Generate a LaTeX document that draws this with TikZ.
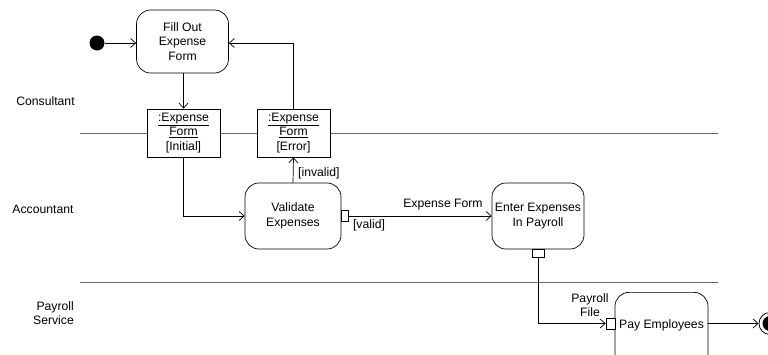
\documentclass[tikz,border=0pt]{standalone}
\usepackage{fontspec}
\setmainfont{Liberation Sans}
\usetikzlibrary{arrows.meta}
\begin{document}
\begin{tikzpicture}[x=1pt,y=-1pt,
  font=\fontsize{12.2}{14.5}\selectfont,
  act/.style={draw, line width=0.7pt, rounded corners=14pt, align=center, inner sep=0pt},
  obj/.style={draw, line width=0.7pt, align=center, inner sep=0pt, minimum width=73pt, minimum height=48pt},
  pinbox/.style={draw, line width=0.7pt, fill=white, inner sep=0pt},
  flow/.style={draw, line width=0.7pt, -{Straight Barb[length=5pt,width=9pt]}},
  lane/.style={draw, black!60, line width=1pt},
  lbl/.style={inner sep=0pt, align=center},
]
\clip (0,0) rectangle (768,354);
\fill[white] (0,0) rectangle (768,354);

% swimlane separators
\coordinate (l1a) at (80,133.5);
\coordinate (l1b) at (718,133.5);
\coordinate (l2a) at (80,282.5);
\coordinate (l2b) at (718,282.5);
\draw[lane] (l1a) -- (l1b);
\draw[lane] (l2a) -- (l2b);

% lane labels
\node[lbl] (consultant) at (45.5,101) {Consultant};
\node[lbl] (accountant) at (43,209) {Accountant};
\node[lbl, align=right, anchor=east] (payroll) at (74,313) {Payroll\\Service};

% nodes
\node[circle, fill=black, inner sep=0pt, minimum size=15pt] (init) at (97,43) {};
\node[act, minimum width=92pt, minimum height=63pt] (fill) at (182.5,41.5) {Fill Out\\Expense\\Form};
\node[obj, fill=white] (objI) at (183.5,133) {\underline{:Expense}\\\underline{Form}\\{[}Initial{]}};
\node[obj, fill=white] (objE) at (293.5,133) {\underline{:Expense}\\\underline{Form}\\{[}Error{]}};
\node[act, minimum width=96pt, minimum height=66pt] (val) at (293,216) {Validate\\Expenses};
\node[act, minimum width=92pt, minimum height=66pt] (enter) at (538,216) {Enter Expenses\\In Payroll};
\node[act, anchor=north, minimum width=93pt, text height=36pt, text depth=40pt] (pay) at (661.5,292) {Pay Employees};

% pins
\node[pinbox, minimum width=7pt, minimum height=11pt] (pinV) at (344.5,216) {};
\node[pinbox, minimum width=12pt, minimum height=8pt] (pinE) at (538,253) {};
\node[pinbox, minimum width=9pt, minimum height=11pt] (pinP) at (610.5,323.5) {};

% final node
\node[circle, draw, line width=0.8pt, fill=white, inner sep=0pt, minimum size=22pt] (final) at (770,323.5) {};
\node[circle, fill=black, inner sep=0pt, minimum size=15pt] (finalin) at (final.center) {};

% connectors
\draw[flow] (init) -- (fill.west |- init);
\draw[flow] (fill.south -| objI.north) -- (objI.north);
\draw[flow] (objE.north) |- (fill.east |- init);
\draw[flow] (objI.south) |- (val.west);
\draw[flow] (val.north) -- (objE.south);
\node[lbl, anchor=west] (invlbl) at (298,173) {[invalid]};
\draw[flow] (pinV.east) -- (pinV.east -| enter.west);
\node[lbl] (eflbl) at (443,205) {Expense Form};
\node[lbl] (validlbl) at (369,225.5) {[valid]};
\draw[flow] (pinE.south) |- (pinP.west);
\node[lbl] (filelbl) at (590,305) {Payroll\\File};
\draw[flow] (pay.east |- final) -- (final.west);
\end{tikzpicture}
\end{document}
